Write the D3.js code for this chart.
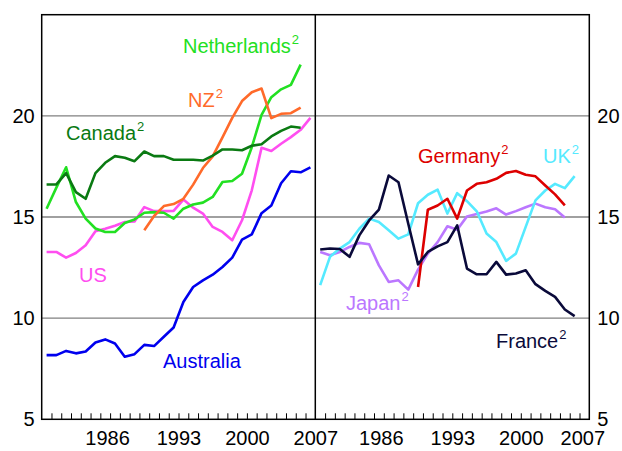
<!DOCTYPE html>
<html>
<head>
<meta charset="utf-8">
<script src="https://cdn.jsdelivr.net/npm/d3@7/dist/d3.min.js"></script>
<style>
  html, body { margin: 0; padding: 0; background: #fff; }
  svg { display: block; }
  text { font-family: "Liberation Sans", Arial, sans-serif; }
</style>
</head>
<body>
<svg id="chart" width="622" height="451"></svg>
<script>
// ---- Data (annual, first year given per series) ----
const firstYear = 1979;
const yTicks = [5, 10, 15, 20];
const xTickLabels = [1986, 1993, 2000, 2007];

// Left panel
const australia = [8.17, 8.17, 8.38, 8.26, 8.35, 8.8, 8.95, 8.75, 8.09, 8.22, 8.68, 8.62, 9.08, 9.54,
  10.8, 11.54, 11.87, 12.15, 12.53, 12.99, 13.88, 14.14, 15.19, 15.57, 16.67, 17.26, 17.21, 17.45];
const canada = [16.61, 16.61, 17.17, 16.23, 15.9, 17.17, 17.68, 18.01, 17.93, 17.76, 18.24, 18.01, 18.01,
  17.83, 17.83, 17.83, 17.79, 18.03, 18.34, 18.34, 18.3, 18.52, 18.6, 18.98, 19.26, 19.47, 19.41];
const netherlands = [15.41, 16.45, 17.46, 15.74, 14.92, 14.43, 14.26, 14.26, 14.7, 14.88, 15.21, 15.24, 15.21,
  14.92, 15.41, 15.62, 15.71, 15.99, 16.73, 16.78, 17.14, 18.45, 20.05, 20.92, 21.31, 21.53, 22.53];
const nzStart = 1989;
const nz = [14.35, 15.05, 15.54, 15.64, 15.9, 16.6, 17.42, 18.0, 18.94, 19.9, 20.73, 21.17, 21.35,
  19.89, 20.1, 20.13, 20.41];
const us = [13.27, 13.27, 12.99, 13.22, 13.6, 14.29, 14.42, 14.57, 14.75, 14.78, 15.49, 15.29, 15.29, 15.3,
  15.86, 15.46, 15.17, 14.51, 14.26, 13.85, 14.84, 16.32, 18.42, 18.26, 18.62, 18.95, 19.31, 19.9];

// Right panel
const france = [13.39, 13.44, 13.42, 13.03, 14.09, 14.83, 15.36, 17.05, 16.72, 14.67, 12.66, 13.27, 13.55,
  13.76, 14.59, 12.45, 12.17, 12.17, 12.78, 12.15, 12.21, 12.37, 11.68, 11.35, 11.05, 10.43, 10.1];
const uk = [11.63, 13.03, 13.44, 13.76, 14.42, 14.92, 14.75, 14.34, 13.93, 14.14, 15.68, 16.1, 16.35,
  15.17, 16.18, 15.78, 15.28, 14.18, 13.76, 12.83, 13.19, 14.51, 15.82, 16.31, 16.64, 16.43, 17.02];
const germanyStart = 1989;
const germany = [11.54, 15.36, 15.57, 15.9, 14.92, 16.31, 16.64, 16.72, 16.89, 17.18, 17.27, 17.09, 17.01,
  16.56, 16.12, 15.57];
const japan = [13.27, 13.11, 13.27, 13.52, 13.72, 13.65, 12.61, 11.79, 11.87, 11.41, 12.4, 13.19, 13.76,
  14.54, 14.37, 15.03, 15.15, 15.27, 15.43, 15.12, 15.29, 15.48, 15.66, 15.48, 15.38, 14.97];

// ---- Layout ----
const L = 41.7, M = 315.3, R = 589.3, T = 14.7, B = 419.3;
const svg = d3.select("#chart");

const xLeft = d3.scaleLinear().domain([1979, 2007]).range([L, M]);
const xRight = d3.scaleLinear().domain([1979, 2007]).range([M, R]);
const y = d3.scaleLinear().domain([5, 25]).range([B, T]);

// Gridlines
svg.append("g").selectAll("line").data([10, 15, 20]).join("line")
  .attr("x1", L).attr("x2", R)
  .attr("y1", d => y(d)).attr("y2", d => y(d))
  .attr("stroke", "#808080").attr("stroke-width", 1.4);

// Series
function toPts(vals, start) { return vals.map((v, i) => ({ yr: start + i + 0.5, v })); }
function drawLine(x, vals, start, color) {
  const line = d3.line().x(d => x(d.yr)).y(d => y(d.v));
  svg.append("path").datum(toPts(vals, start))
    .attr("d", line).attr("fill", "none")
    .attr("stroke", color).attr("stroke-width", 2.6)
    .attr("stroke-linejoin", "round");
}
drawLine(xLeft, us, firstYear, "#ff4ef0");
drawLine(xLeft, netherlands, firstYear, "#22e022");
drawLine(xLeft, nz, nzStart, "#ff6a2a");
drawLine(xLeft, canada, firstYear, "#0a7a12");
drawLine(xLeft, australia, firstYear, "#0000ee");

drawLine(xRight, japan, firstYear, "#bb77ff");
drawLine(xRight, uk, firstYear, "#55eaff");
drawLine(xRight, germany, germanyStart, "#dd0000");
drawLine(xRight, france, firstYear, "#0a0a3a");

// Frame
const frame = svg.append("g").attr("stroke", "#000").attr("stroke-width", 1.5).attr("fill", "none");
frame.append("rect").attr("x", L).attr("y", T).attr("width", R - L).attr("height", B - T);
frame.append("line").attr("x1", M).attr("x2", M).attr("y1", T).attr("y2", B);

// Minor x ticks (inside)
const minorYears = d3.range(1980, 2007);
[xLeft, xRight].forEach(x => {
  const g = svg.append("g").attr("transform", `translate(0,${B})`)
    .call(d3.axisBottom(x).tickValues(minorYears).tickSize(-6).tickFormat(""));
  g.select(".domain").remove();
  g.selectAll("line").attr("stroke", "#000").attr("stroke-width", 1);
});

// X labels
[xLeft, xRight].forEach((x, k) => {
  const g = svg.append("g").attr("transform", `translate(0,${B})`)
    .call(d3.axisBottom(x).tickValues(xTickLabels).tickSize(0).tickPadding(12).tickFormat(d3.format("d")));
  g.select(".domain").remove();
  g.selectAll("text").attr("font-size", 20).attr("fill", "#000")
    .attr("font-family", "Liberation Sans, Arial, sans-serif")
    .attr("dx", d => (k === 1 && d === 2007) ? -7 : (d === 1986 ? -3 : 0));
});

// Y labels
const gl = svg.append("g").attr("transform", `translate(${L},0)`)
  .call(d3.axisLeft(y).tickValues(yTicks).tickSize(0).tickPadding(7));
gl.select(".domain").remove();
gl.selectAll("text").attr("font-size", 20).attr("fill", "#000")
  .attr("font-family", "Liberation Sans, Arial, sans-serif");
const gr = svg.append("g").attr("transform", `translate(${R},0)`)
  .call(d3.axisRight(y).tickValues(yTicks).tickSize(0).tickPadding(8));
gr.select(".domain").remove();
gr.selectAll("text").attr("font-size", 20).attr("fill", "#000")
  .attr("font-family", "Liberation Sans, Arial, sans-serif");

// Series labels
const labels = [
  { name: "Netherlands", sup: true, x: 183, y: 53, color: "#22e022" },
  { name: "NZ", sup: true, x: 188, y: 107, color: "#ff6a2a" },
  { name: "Canada", sup: true, x: 66, y: 140, color: "#0a7a12" },
  { name: "US", sup: false, x: 79, y: 282, color: "#ff4ef0" },
  { name: "Australia", sup: false, x: 163, y: 368, color: "#0000ee" },
  { name: "Germany", sup: true, x: 418, y: 163, color: "#dd0000" },
  { name: "UK", sup: true, x: 543, y: 163, color: "#55eaff" },
  { name: "Japan", sup: true, x: 346, y: 310, color: "#bb77ff" },
  { name: "France", sup: true, x: 496, y: 348, color: "#0a0a3a" }
];
labels.forEach(l => {
  const t = svg.append("text").attr("x", l.x).attr("y", l.y)
    .attr("font-size", 20).attr("fill", l.color);
  t.append("tspan").text(l.name);
  if (l.sup) t.append("tspan").attr("font-size", 13).attr("dy", -9).attr("dx", 1).text("2");
});
</script>
</body>
</html>
